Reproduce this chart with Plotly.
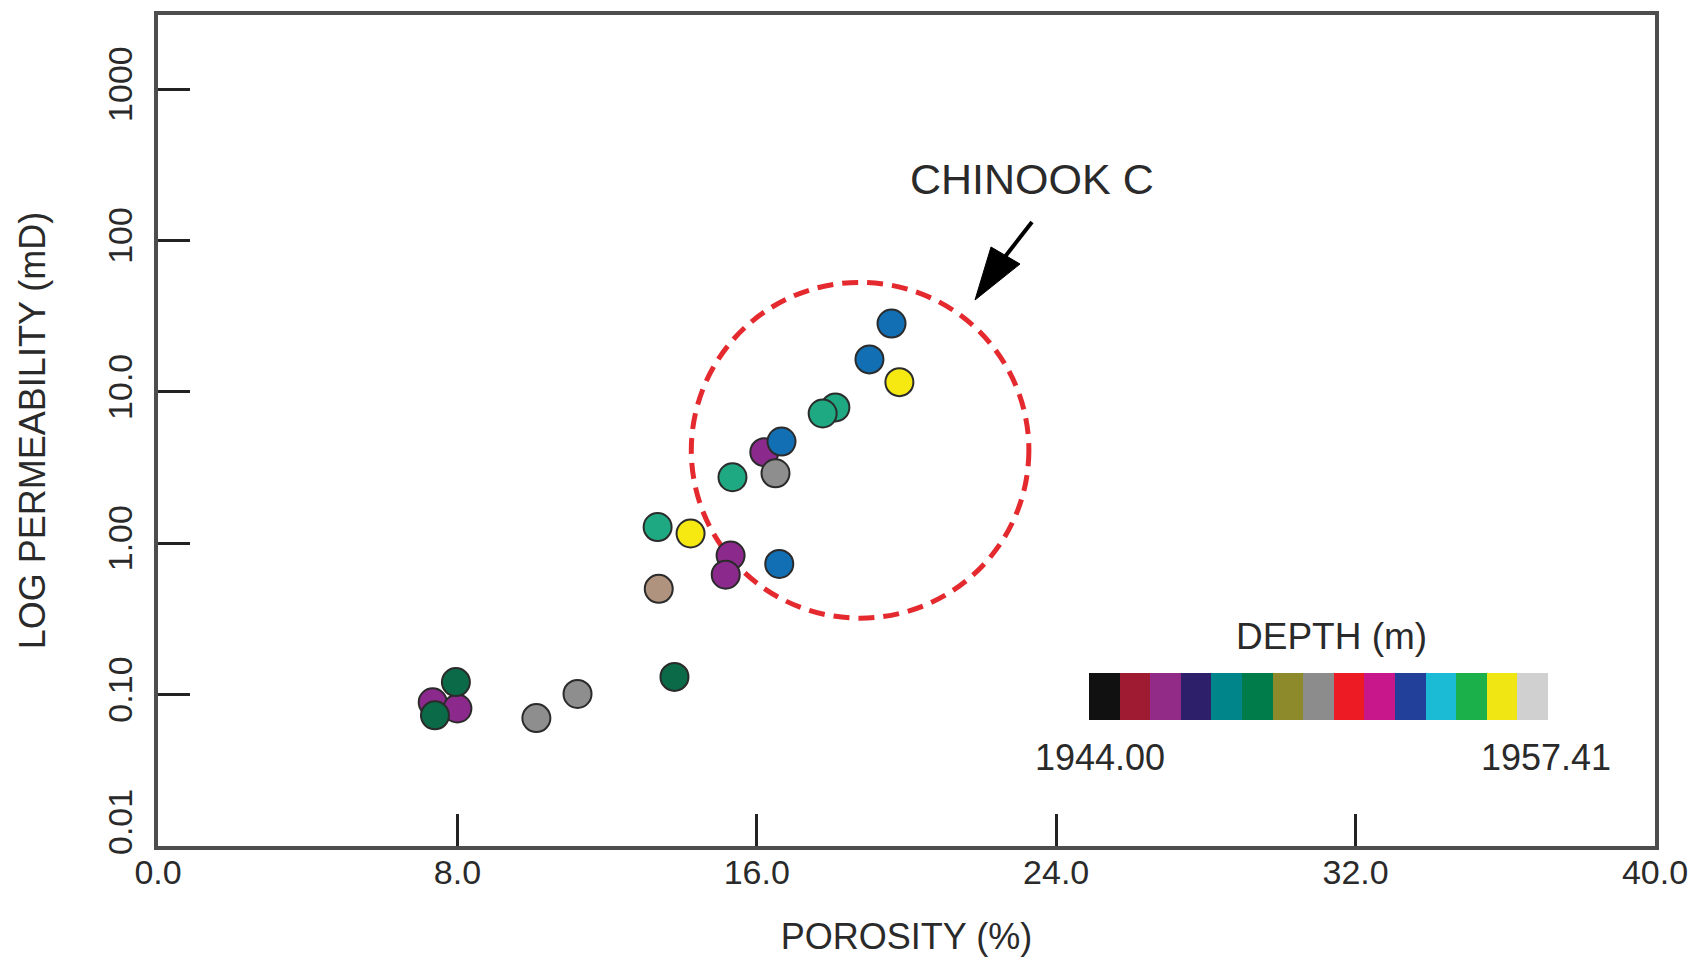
import plotly.graph_objects as go

# ---------------- data ----------------
porosity = [7.34, 8.00, 7.96, 7.40, 10.11, 11.21, 13.80, 13.38, 15.30, 15.17, 16.60,
            13.35, 14.23, 15.35, 16.20, 16.50, 16.66, 18.10, 17.76, 19.60, 19.01, 19.81]
permeability = [0.089, 0.081, 0.121, 0.073, 0.070, 0.101, 0.131, 0.50, 0.83, 0.62, 0.73,
                 1.28, 1.16, 2.73, 4.0, 2.9, 4.7, 7.9, 7.2, 28.3, 16.4, 11.6]
point_group = ["purple", "purple", "darkgreen", "darkgreen", "gray", "gray", "darkgreen",
               "tan", "purple", "purple", "blue", "teal", "yellow", "teal", "purple",
               "gray", "blue", "teal", "teal", "blue", "blue", "yellow"]
group_colors = {
    "purple": "#8b2a8c",
    "darkgreen": "#0b6a47",
    "gray": "#8e8e8e",
    "tan": "#b0937e",
    "blue": "#136fb3",
    "teal": "#1fa982",
    "yellow": "#f6e911",
}

x_ticks = [0, 8, 16, 24, 32, 40]
x_ticktext = ["0.0", "8.0", "16.0", "24.0", "32.0", "40.0"]
y_ticks = [0.01, 0.1, 1, 10, 100, 1000]
y_ticktext = ["", "0.10", "1.00", "10.0", "100", "1000"]
y_bottom_label = "0.01"

depth_colors = ["#111111", "#9e1b32", "#922a87", "#2e1f6b", "#00858a", "#007c4b",
                "#8d8a2c", "#8c8c8c", "#ed1c24", "#c8168b", "#22409a", "#1bbbd6",
                "#1cb04b", "#f0e614", "#d0d0d0"]
depth_labels = ["1944.00", "1957.41"]

# ---------------- layout geometry (pixels) ----------------
W, H = 1694, 959
L, R, T, B = 158, 1655, 15, 846


def pxx(v):
    return (v - L) / (R - L)


def pxy(v):
    return (B - v) / (B - T)


FONT = "Liberation Sans, Arial, sans-serif"
TXT = "#2a2a2a"

fig = go.Figure()

fig.add_trace(go.Scatter(
    x=porosity, y=permeability, mode="markers",
    marker=dict(size=28, color=[group_colors[g] for g in point_group],
                line=dict(color="#2b2b2b", width=2)),
    showlegend=False, hoverinfo="x+y",
))

# depth colour key as a heatmap on its own axes
n = len(depth_colors)
cscale = []
for i, c in enumerate(depth_colors):
    cscale.append([i / n, c])
    cscale.append([(i + 1) / n, c])
fig.add_trace(go.Heatmap(
    z=[list(range(n))], x=list(range(n)), y=[0],
    colorscale=cscale, zmin=-0.5, zmax=n - 0.5, showscale=False,
    xaxis="x2", yaxis="y2", hoverinfo="skip",
))

axis_common = dict(
    showline=True, linecolor="#4d4d4d", linewidth=4, mirror=True,
    ticks="inside", ticklen=32, tickwidth=3, tickcolor="#222222",
    showgrid=False, zeroline=False,
    tickfont=dict(family=FONT, size=34, color=TXT),
)

fig.update_layout(
    width=W, height=H,
    margin=dict(l=L, r=W - R, t=T, b=H - B, autoexpand=False),
    paper_bgcolor="white", plot_bgcolor="white",
    font=dict(family=FONT, color=TXT),
    xaxis=dict(range=[0, 40], tickvals=x_ticks, ticktext=x_ticktext,
               title=dict(text="POROSITY (%)", font=dict(family=FONT, size=36, color=TXT), standoff=35),
               ticklabelstandoff=-7, **axis_common),
    yaxis=dict(type="log", range=[-2, 3.49], tickvals=y_ticks, ticktext=y_ticktext,
               tickangle=-90,
               title=dict(text="LOG PERMEABILITY (mD)", font=dict(family=FONT, size=36, color=TXT), standoff=46),
               ticklabelstandoff=8, **axis_common),
    xaxis2=dict(domain=[pxx(1089), pxx(1548)], anchor="y2", range=[-0.5, n - 0.5],
                visible=False, fixedrange=True),
    yaxis2=dict(domain=[pxy(720), pxy(673)], anchor="x2", range=[-0.5, 0.5],
                visible=False, fixedrange=True),
)

# bottom y tick label, nudged up off the corner as in the original
fig.add_annotation(x=pxx(120), xref="paper", y=-2, yref="y", yshift=24,
                   text=y_bottom_label, textangle=-90, showarrow=False,
                   xanchor="center", yanchor="middle",
                   font=dict(family=FONT, size=34, color=TXT))

# dashed circle around Chinook C
fig.add_shape(type="circle", xref="x", yref="y", x0=14.25, x1=23.27, y0=0.32, y1=52.9,
              line=dict(color="#e42a2f", width=5, dash="16px,9px"), layer="below")

# arrow (line + elongated filled head)
fig.add_shape(type="line", xref="paper", yref="paper",
              x0=pxx(1032), y0=pxy(222), x1=pxx(1004), y1=pxy(258),
              line=dict(color="black", width=4))
head = "M {:.5f},{:.5f} L {:.5f},{:.5f} L {:.5f},{:.5f} Z".format(
    pxx(975), pxy(300), pxx(991), pxy(247), pxx(1020), pxy(264))
fig.add_shape(type="path", xref="paper", yref="paper", path=head,
              fillcolor="black", line=dict(color="black", width=1))

fig.add_annotation(x=pxx(1032), y=pxy(179), xref="paper", yref="paper",
                   text="CHINOOK C", showarrow=False, xanchor="center", yanchor="middle",
                   font=dict(family=FONT, size=43, color=TXT))
fig.add_annotation(x=pxx(1331), y=pxy(636), xref="paper", yref="paper",
                   text="DEPTH (m)", showarrow=False, xanchor="center", yanchor="middle",
                   font=dict(family=FONT, size=37, color=TXT))
fig.add_annotation(x=pxx(1100), y=pxy(757), xref="paper", yref="paper",
                   text=depth_labels[0], showarrow=False, xanchor="center", yanchor="middle",
                   font=dict(family=FONT, size=36, color=TXT))
fig.add_annotation(x=pxx(1546), y=pxy(757), xref="paper", yref="paper",
                   text=depth_labels[1], showarrow=False, xanchor="center", yanchor="middle",
                   font=dict(family=FONT, size=36, color=TXT))

fig.write_html("out.html", config={"displayModeBar": False},
               post_script="document.body.style.margin='0';document.body.style.overflow='hidden';")
